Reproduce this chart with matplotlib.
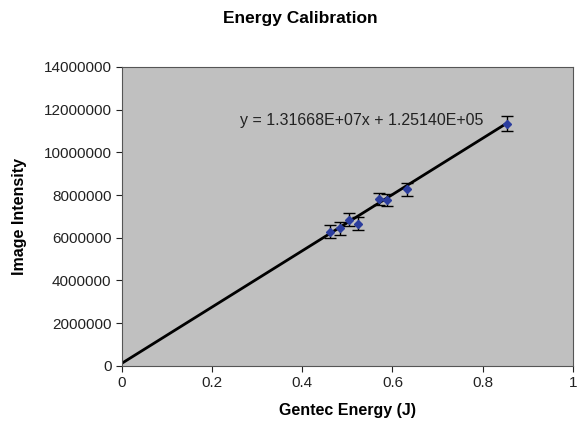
import matplotlib
matplotlib.use('Agg')
import matplotlib.pyplot as plt
import numpy as np

plt.rcParams['font.family'] = ['Liberation Sans', 'DejaVu Sans']

# measured points
energy = [0.461, 0.483, 0.503, 0.524, 0.571, 0.587, 0.633, 0.853]
intensity = [6.29e6, 6.45e6, 6.84e6, 6.65e6, 7.82e6, 7.77e6, 8.27e6, 11.33e6]
err = [0.3e6, 0.3e6, 0.3e6, 0.3e6, 0.3e6, 0.3e6, 0.3e6, 0.35e6]

# linear fit shown on chart
slope = 1.31668e7
intercept = 1.25140e5
fit_x = [0.0, 0.853]

fig = plt.figure(figsize=(5.78, 4.32), dpi=100)
ax = fig.add_axes([0.211, 0.153, 0.78, 0.692])
ax.set_facecolor('#c0c0c0')

fx = np.array(fit_x)
ax.plot(fx, slope*fx + intercept, color='black', linewidth=2, zorder=2)
ax.errorbar(energy, intensity, yerr=err, fmt='D', color='#2b3d9e', markersize=4,
            ecolor='black', elinewidth=1, capsize=4, capthick=1, zorder=3)

ax.text(0.262, 11.3e6, 'y = 1.31668E+07x + 1.25140E+05', fontsize=11.5, color='#222222')

ax.set_xlim(0, 1)
ax.set_ylim(0, 14e6)
ax.set_xticks([0, 0.2, 0.4, 0.6, 0.8, 1])
ax.set_xticklabels(['0', '0.2', '0.4', '0.6', '0.8', '1'])
ax.set_yticks(np.arange(0, 14e6 + 1, 2e6))
ax.set_yticklabels([str(int(v)) for v in np.arange(0, 14e6 + 1, 2e6)])
ax.tick_params(direction='out', length=4, labelsize=11, colors='#222222')
for s in ax.spines.values():
    s.set_color('#555555')

ax.set_xlabel('Gentec Energy (J)', fontsize=11.5, fontweight='bold', labelpad=9)
ax.set_ylabel('Image Intensity', fontsize=11.5, fontweight='bold', labelpad=12)
fig.text(0.52, 0.957, 'Energy Calibration', ha='center', va='center',
         fontsize=12.5, fontweight='bold')

fig.savefig('out.png', dpi=100)
